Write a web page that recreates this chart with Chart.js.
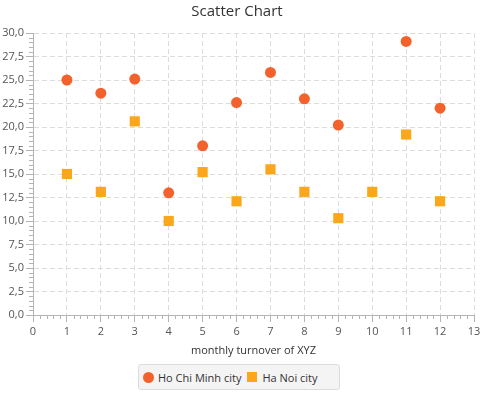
<!DOCTYPE html>
<html>
<head>
<meta charset="utf-8">
<script src="https://cdn.jsdelivr.net/npm/chart.js@4/dist/chart.umd.min.js"></script>
<style>
  html, body { margin:0; padding:0; background:#fff; }
  #wrap { position:relative; width:490px; height:393px; }
  #legend {
    position:absolute; left:138px; top:364px; width:202px; height:26px;
    box-sizing:border-box; padding:0 0 0 4px;
    background:#f4f4f4; border:1px solid #dcdcdc; border-radius:3px;
    display:flex; align-items:center;
    font:11px "Open Sans", sans-serif; color:#333;
  }
  #legend .item { display:flex; align-items:center; margin-right:6px; }
  #legend .sym { width:10px; height:10px; margin-right:5px; }
</style>
</head>
<body>
<div id="wrap">
  <canvas id="chart" width="490" height="393"></canvas>
  <div id="legend"></div>
</div>
<script>
const months = [1, 2, 3, 4, 5, 6, 7, 8, 9, 10, 11, 12];
const hcmMonths = [1, 2, 3, 4, 5, 6, 7, 8, 9, 11, 12];
const hcmValues = [25.0, 23.6, 25.1, 13.0, 18.0, 22.6, 25.8, 23.0, 20.2, 29.1, 22.0];
const hnValues = [15.0, 13.1, 20.6, 10.0, 15.2, 12.1, 15.5, 13.1, 10.3, 13.1, 19.2, 12.1];
const seriesNames = ['Ho Chi Minh city', 'Ha Noi city'];
const seriesColors = ['#f3622d', '#fba71b'];

const fam = '"Open Sans", sans-serif';
const comma = v => v.toFixed(1).replace('.', ',');

// minor tick marks, placed through the scales
const minorTicks = {
  id: 'minorTicks',
  afterDraw(chart) {
    const {ctx, scales: {x, y}} = chart;
    ctx.save();
    ctx.strokeStyle = '#b4b4b4';
    ctx.lineWidth = 1;
    ctx.beginPath();
    for (let i = 0; i <= 60; i++) {
      if (i % 5 === 0) continue;
      const py = Math.round(y.getPixelForValue(i * 0.5)) + 0.5;
      ctx.moveTo(x.left - 4, py); ctx.lineTo(x.left, py);
    }
    for (let i = 0; i <= 65; i++) {
      if (i % 5 === 0) continue;
      const px = Math.round(x.getPixelForValue(i * 0.2)) + 0.5;
      ctx.moveTo(px, y.bottom); ctx.lineTo(px, y.bottom + 4);
    }
    ctx.stroke();
    ctx.restore();
  }
};

const gridOpts = { color: '#dcdcdc', tickLength: 7, tickColor: '#b4b4b4', tickBorderDash: [] };
const borderOpts = { display: true, color: '#b4b4b4', dash: [5, 3] };

const chart = new Chart(document.getElementById('chart'), {
  type: 'scatter',
  data: {
    datasets: [
      {
        label: seriesNames[0],
        data: hcmMonths.map((m, i) => ({x: m, y: hcmValues[i]})),
        pointStyle: 'circle', pointRadius: 5.5, pointHoverRadius: 5.5,
        backgroundColor: seriesColors[0], borderWidth: 0
      },
      {
        label: seriesNames[1],
        data: months.map((m, i) => ({x: m, y: hnValues[i]})),
        pointStyle: 'rect', pointRadius: 7.2, pointHoverRadius: 7.2,
        backgroundColor: seriesColors[1], borderWidth: 0
      }
    ]
  },
  options: {
    responsive: false,
    animation: false,
    layout: { padding: { left: 0, right: 16, top: 0, bottom: 33 } },
    plugins: {
      legend: { display: false },
      tooltip: { enabled: false },
      title: {
        display: true, text: 'Scatter Chart', color: '#333',
        font: { family: fam, size: 15, weight: 'normal' },
        padding: { top: 3, bottom: 12 }
      }
    },
    scales: {
      x: {
        type: 'linear', min: 0, max: 13,
        afterFit: s => { s.height = 45; },
        ticks: { stepSize: 1, color: '#555', padding: 3, font: { family: fam, size: 11 } },
        grid: gridOpts,
        border: borderOpts,
        title: { display: true, text: 'monthly turnover of XYZ', color: '#333',
                 font: { family: fam, size: 11 }, padding: { top: 0, bottom: 3 } }
      },
      y: {
        type: 'linear', min: 0, max: 30,
        afterFit: s => { s.width = 33; },
        ticks: { stepSize: 2.5, color: '#555', padding: 2, callback: v => comma(v), font: { family: fam, size: 11 } },
        grid: gridOpts,
        border: borderOpts
      }
    }
  },
  plugins: [minorTicks]
});

// legend built from the datasets
const lg = document.getElementById('legend');
chart.data.datasets.forEach((ds, i) => {
  const it = document.createElement('span');
  it.className = 'item';
  const sym = document.createElement('span');
  sym.className = 'sym';
  sym.style.background = ds.backgroundColor;
  if (ds.pointStyle === 'circle') { sym.style.borderRadius = '50%'; sym.style.width = '11px'; sym.style.height = '11px'; sym.style.marginRight = '4px'; }
  it.appendChild(sym);
  it.appendChild(document.createTextNode(ds.label));
  lg.appendChild(it);
});
</script>
</body>
</html>
